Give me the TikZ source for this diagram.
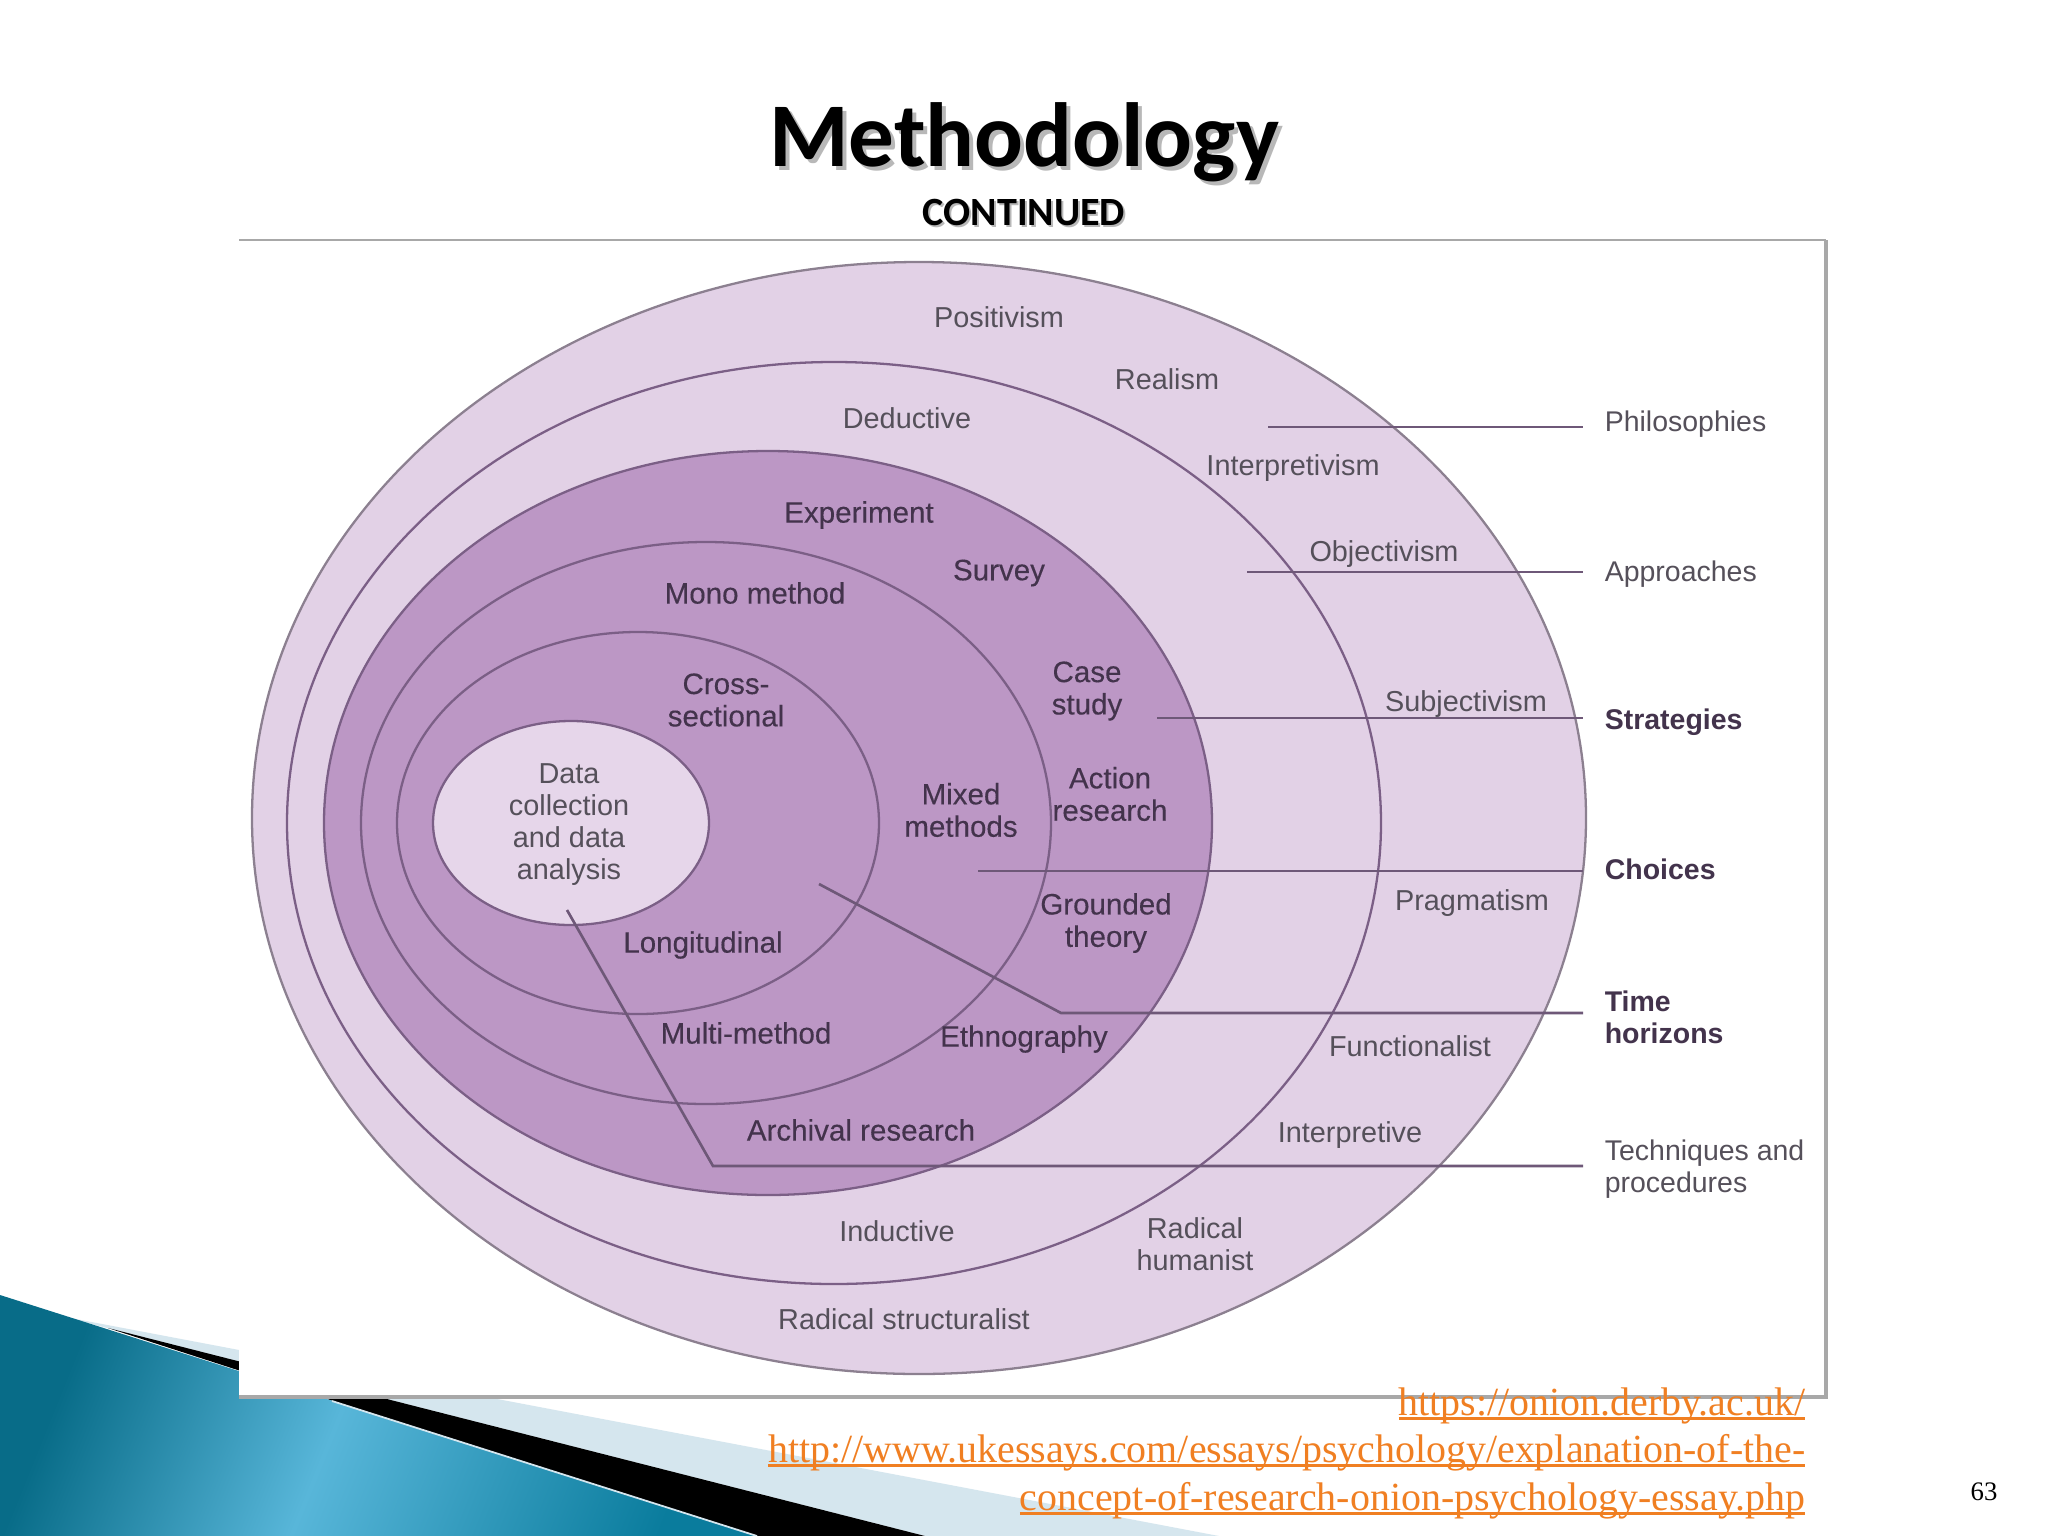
\documentclass[tikz,border=0pt]{standalone}
\usepackage{fontspec}
\setmainfont{Liberation Sans}
\newfontfamily\titlefont{Carlito}
\newfontfamily\urlfont{Liberation Serif}
\newfontfamily\darkfont[FakeBold=0.25]{Liberation Sans}
\definecolor{palepurple}{HTML}{E2D1E6}
\definecolor{midpurple}{HTML}{BC97C5}
\definecolor{innerpurple}{HTML}{E6D6EA}
\definecolor{ringline}{HTML}{7B5F86}
\definecolor{outerline}{HTML}{8C8090}
\definecolor{leaderline}{HTML}{6E5878}
\definecolor{labgray}{HTML}{55505A}
\definecolor{labdark}{HTML}{43334C}
\definecolor{urlorange}{HTML}{F07F22}
\definecolor{framegray}{HTML}{A8A8A8}
\definecolor{bandpale}{HTML}{D5E6EE}
\definecolor{banddark}{HTML}{086C88}
\definecolor{bandmid}{HTML}{58B6D9}
\definecolor{bandend}{HTML}{0A7C9D}
\pgfdeclarehorizontalshading{bandshade}{100bp}{color(0bp)=(banddark); color(25bp)=(banddark);
  color(47bp)=(bandmid); color(75bp)=(bandend); color(100bp)=(bandend)}
\newcommand{\ulink}[1]{\setbox0\hbox{#1}\rlap{\rule[-1.4pt]{\wd0}{0.7pt}}\box0}

\begin{document}
\begin{tikzpicture}[%
  x=0.01cm,y=-0.01cm,
  ring/.style={draw=ringline,line width=0.65pt},
  leader/.style={draw=leaderline,line width=0.75pt},
  lab/.style={text=labgray,font=\fontsize{8.2}{9.1}\selectfont,align=center,inner sep=0pt},
  darklab/.style={lab,text=labdark,font=\darkfont\fontsize{8.4}{9.2}\selectfont},
  side/.style={lab,align=left,anchor=west,inner xsep=6pt,font=\fontsize{8.1}{9.1}\selectfont},
  sidebold/.style={side,text=labdark,font=\fontsize{8.1}{9.1}\selectfont\bfseries},
  link/.style={text=urlorange,font=\urlfont\fontsize{11.35}{13}\selectfont,anchor=base east,inner sep=0pt},
  bigtitle/.style={font=\titlefont\bfseries\fontsize{25.9}{28}\selectfont},
  smalltitle/.style={font=\titlefont\bfseries\fontsize{11.4}{13}\selectfont}]
    \useasboundingbox (0,0) rectangle (2048,1536);
    % Corner bands
    \fill[fill=white] (0,0) rectangle (2048,1536);
    \fill[fill=bandpale] (60,1316) -- (1219,1536) -- (925,1536) -- cycle;
    \fill[fill=black] (108,1328) -- (925,1536) -- (750,1536) -- cycle;
    \shade[shading=bandshade,shading angle=-22]
      (0,1295) -- (757,1536) -- (0,1536) -- cycle;
    \draw[draw=bandpale,line width=0.5pt] (332,1401) -- (757,1536);
    % Frame
    \fill[fill=white] (239,240) rectangle (1826,1397);
    \draw[draw=framegray,line width=0.6pt] (239,240) -- (1826,240);
    \draw[draw=framegray,line width=1.3pt] (1826,240) -- (1826,1397) -- (239,1397);
    % Title
    \node[bigtitle,text=black!28] (titleshade) at (1028,146) {Methodology};
    \node[bigtitle] (title) at (1024,142) {Methodology};
    \node[smalltitle,text=black!28] (subshade) at (1026,214) {CONTINUED};
    \node[smalltitle] (sub) at (1024,212) {CONTINUED};
    % Rings
    \draw[draw=outerline,line width=0.65pt,fill=palepurple] (919,818) ellipse [x radius=667,y radius=556];
    \draw[ring] (834,823) ellipse [x radius=547,y radius=461];
    \draw[ring,fill=midpurple] (768,823) ellipse [x radius=444,y radius=372];
    \draw[ring] (706,823) ellipse [x radius=345,y radius=281];
    \draw[ring] (638,823) ellipse [x radius=241,y radius=191];
    \draw[ring,fill=innerpurple] (571,823) ellipse [x radius=138,y radius=102];
    % Side labels
    \node[side] (philosophies) at (1583,424) {Philosophies};
    \node[side] (approaches) at (1583,574) {Approaches};
    \node[sidebold] (strategies) at (1583,722) {Strategies};
    \node[sidebold] (choices) at (1583,869) {Choices};
    \node[sidebold] (horizons) at (1583,1017) {Time\\horizons};
    \node[side] (techniques) at (1583,1169) {Techniques and\\procedures};
    % Leaders
    \coordinate (philstart) at (1268,427);
    \coordinate (appstart) at (1247,572);
    \coordinate (stratstart) at (1157,718);
    \coordinate (choicestart) at (978,871);
    \coordinate (timestart) at (819,884);
    \coordinate (timebend) at (1061,1013);
    \coordinate (techstart) at (567,910);
    \coordinate (techbend) at (713,1166);
    \draw[leader] (philstart) -- (philstart -| philosophies.west);
    \draw[leader] (appstart) -- (appstart -| approaches.west);
    \draw[leader] (stratstart) -- (stratstart -| strategies.west);
    \draw[leader] (choicestart) -- (choicestart -| choices.west);
    \draw[leader] (timestart) -- (timebend) -- (timebend -| horizons.west);
    \draw[leader] (techstart) -- (techbend) -- (techbend -| techniques.west);
    % Philosophies and approaches
    \node[lab] (positivism) at (999,317) {Positivism};
    \node[lab] (realism) at (1167,379) {Realism};
    \node[lab] (deductive) at (907,418) {Deductive};
    \node[lab] (interpretivism) at (1293,468) {Interpretivism};
    \node[lab] (objectivism) at (1384,554) {Objectivism};
    \node[lab] (subjectivism) at (1466,704) {Subjectivism};
    \node[lab] (pragmatism) at (1472,903) {Pragmatism};
    \node[lab] (functionalist) at (1410,1046) {Functionalist};
    \node[lab] (interpretive) at (1350,1135) {Interpretive};
    \node[lab] (humanist) at (1195,1244) {Radical\\humanist};
    \node[lab] (inductive) at (897,1231) {Inductive};
    \node[lab] (structuralist) at (904,1319) {Radical structuralist};
    % Strategies, choices, horizons
    \node[darklab] (experiment) at (859,515) {Experiment};
    \node[darklab] (survey) at (999,573) {Survey};
    \node[darklab] (mono) at (755,593) {Mono method};
    \node[darklab] (casestudy) at (1087,691) {Case\\study};
    \node[darklab] (cross) at (726,700) {Cross-\\sectional};
    \node[darklab] (action) at (1110,794) {Action\\research};
    \node[darklab] (mixed) at (961,810) {Mixed\\methods};
    \node[lab] (data) at (569,825) {Data\\collection\\and data\\analysis};
    \node[darklab] (grounded) at (1106,923) {Grounded\\theory};
    \node[darklab] (longitudinal) at (703,945) {Longitudinal};
    \node[darklab] (multi) at (746,1033) {Multi-method};
    \node[darklab] (ethnography) at (1024,1039) {Ethnography};
    \node[darklab] (archival) at (861,1130) {Archival research};
    % Links and page number
    \node[link] (linkone) at (1806,1415) {\ulink{https://onion.derby.ac.uk/}};
    \node[link] (linktwo) at (1806,1462) {\ulink{http://www.ukessays.com/essays/psychology/explanation-of-the-}};
    \node[link] (linkthree) at (1806,1510) {\ulink{concept-of-research-onion-psychology-essay.php}};
    \node[font=\urlfont\fontsize{7.6}{9}\selectfont,inner sep=0pt] (pagenum) at (1984,1492) {63};
\end{tikzpicture}
\end{document}
